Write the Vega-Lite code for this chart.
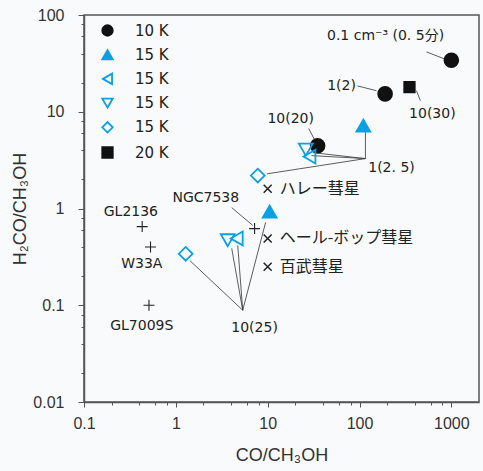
{
  "$schema": "https://vega.github.io/schema/vega-lite/v6.json",
  "width": 395,
  "height": 387,
  "autosize": {"type": "none"},
  "padding": {"left": 84, "top": 15, "right": 4, "bottom": 69},
  "background": "#f8fafc",
  "config": {
    "view": {"stroke": "#555", "strokeWidth": 1.5},
    "axis": {"grid": false, "domainColor": "#555", "domainWidth": 1.5, "tickColor": "#555", "tickWidth": 1, "labelFont": "Liberation Sans", "labelFontSize": 16, "labelColor": "#333", "titleFont": "Liberation Sans", "titleFontSize": 18, "titleFontWeight": "normal", "titleColor": "#333"},
    "legend": {"padding": 0, "symbolSize": 110, "symbolStrokeWidth": 1.8, "labelFont": "DejaVu Sans", "labelFontSize": 15, "labelColor": "#222", "rowPadding": 6.2, "labelOffset": 20},
    "text": {"font": "DejaVu Sans", "fontSize": 14, "fill": "#222"}
  },
  "datasets": {
    "pts": [
      {"series": "10 K", "x": 1000, "y": 34},
      {"series": "10 K", "x": 190, "y": 15.3},
      {"series": "10 K", "x": 35, "y": 4.45},
      {"series": "20 K", "x": 350, "y": 18},
      {"series": "15 K-1", "x": 110, "y": 7.2},
      {"series": "15 K-1", "x": 10.5, "y": 0.93},
      {"series": "15 K-2", "x": 28.5, "y": 3.44},
      {"series": "15 K-2", "x": 4.6, "y": 0.49},
      {"series": "15 K-3", "x": 26, "y": 4.06},
      {"series": "15 K-3", "x": 3.67, "y": 0.47},
      {"series": "15 K-4", "x": 7.8, "y": 2.19},
      {"series": "15 K-4", "x": 1.28, "y": 0.34}
    ],
    "seg": [
      {"x": 535, "y": 41.6, "x2": 839, "y2": 35.2},
      {"x": 95, "y": 18.5, "x2": 153, "y2": 16.5},
      {"x": 417, "y": 16.5, "x2": 460, "y2": 13},
      {"x": 28, "y": 6.7, "x2": 34, "y2": 4.7},
      {"x": 116, "y": 3.28, "x2": 116, "y2": 6.37},
      {"x": 116, "y": 3.28, "x2": 31, "y2": 3.78},
      {"x": 116, "y": 3.28, "x2": 30, "y2": 3.52},
      {"x": 116, "y": 3.28, "x2": 9.8, "y2": 2.28},
      {"x": 4.06, "y": 1.02, "x2": 6.87, "y2": 0.67},
      {"x": 5.35, "y": 0.0888, "x2": 1.42, "y2": 0.29},
      {"x": 5.35, "y": 0.0888, "x2": 4.06, "y2": 0.387},
      {"x": 5.35, "y": 0.0888, "x2": 4.72, "y2": 0.416},
      {"x": 5.35, "y": 0.0888, "x2": 9.5, "y2": 0.72}
    ],
    "lbl": [
      {"text": "0.1 cm⁻³ (0. 5分)", "x": 192, "y": 60.8},
      {"text": "1(2)", "x": 63.7, "y": 18.5},
      {"text": "10(30)", "x": 621, "y": 9.5},
      {"text": "10(20)", "x": 17.8, "y": 8.5},
      {"text": "1(2. 5)", "x": 223, "y": 2.65},
      {"text": "NGC7538", "x": 2.12, "y": 1.27},
      {"text": "GL2136", "x": 0.324, "y": 0.93},
      {"text": "W33A", "x": 0.426, "y": 0.27},
      {"text": "GL7009S", "x": 0.426, "y": 0.0608},
      {"text": "10(25)", "x": 7.2, "y": 0.058}
    ],
    "src": [
      {"name": "GL2136", "x": 0.43, "y": 0.65},
      {"name": "W33A", "x": 0.53, "y": 0.40},
      {"name": "GL7009S", "x": 0.51, "y": 0.1},
      {"name": "NGC7538", "x": 7.2, "y": 0.62}
    ],
    "comet": [
      {"name": "ハレー彗星", "x": 10, "y": 1.6},
      {"name": "ヘール-ボップ彗星", "x": 10, "y": 0.49},
      {"name": "百武彗星", "x": 10, "y": 0.25}
    ]
  },
  "layer": [
    {
      "data": {"name": "seg"},
      "mark": {"type": "rule", "color": "#333", "strokeWidth": 0.8},
      "encoding": {
        "x": {"field": "x", "type": "quantitative", "scale": {"type": "log", "domain": [0.1, 2000], "nice": false},
          "axis": {"title": "CO/CH₃OH", "values": [0.1,0.2,0.4,0.6,0.8,1,2,4,6,8,10,20,40,60,80,100,200,400,600,800,1000],
            "labelExpr": "abs(log(datum.value)/LN10 - round(log(datum.value)/LN10)) < 1e-6 ? format(datum.value, '~g') : ''",
            "tickSize": {"condition": {"test": "abs(log(datum.value)/LN10 - round(log(datum.value)/LN10)) < 1e-6", "value": 5}, "value": 3},
            "labelPadding": 8, "titlePadding": 15, "labelFlush": false}},
        "y": {"field": "y", "type": "quantitative", "scale": {"type": "log", "domain": [0.01, 100], "nice": false},
          "axis": {"title": "H₂CO/CH₃OH", "values": [0.01,0.02,0.04,0.06,0.08,0.1,0.2,0.4,0.6,0.8,1,2,4,6,8,10,20,40,60,80,100],
            "labelExpr": "abs(log(datum.value)/LN10 - round(log(datum.value)/LN10)) < 1e-6 ? format(datum.value, '~g') : ''",
            "tickSize": {"condition": {"test": "abs(log(datum.value)/LN10 - round(log(datum.value)/LN10)) < 1e-6", "value": 6}, "value": 3},
            "labelPadding": 14, "titlePadding": 3, "labelFlush": false}},
        "x2": {"field": "x2"},
        "y2": {"field": "y2"}
      }
    },
    {
      "data": {"name": "pts"},
      "transform": [{"filter": "datum.series != '20 K'"}],
      "mark": {"type": "point", "filled": false, "strokeWidth": 1.8, "opacity": 1, "size": 190},
      "encoding": {
        "x": {"field": "x", "type": "quantitative"},
        "y": {"field": "y", "type": "quantitative"},
        "shape": {"field": "series", "type": "nominal",
          "scale": {"domain": ["10 K", "15 K-1", "15 K-2", "15 K-3", "15 K-4", "20 K"], "range": ["circle", "triangle-up", "triangle-left", "triangle-down", "diamond", "square"]},
          "legend": {"title": null, "orient": "none", "legendX": 16, "legendY": 8, "labelExpr": "slice(datum.label, 0, 4)"}},
        "fill": {"field": "series", "type": "nominal",
          "scale": {"domain": ["10 K", "15 K-1", "15 K-2", "15 K-3", "15 K-4", "20 K"], "range": ["#111111", "#0aa0e6", "transparent", "transparent", "transparent", "#111111"]}},
        "stroke": {"field": "series", "type": "nominal",
          "scale": {"domain": ["10 K", "15 K-1", "15 K-2", "15 K-3", "15 K-4", "20 K"], "range": ["#111111", "#0aa0e6", "#0aa0e6", "#0aa0e6", "#0aa0e6", "#111111"]}}
      }
    },
    {
      "data": {"name": "pts"},
      "transform": [{"filter": "datum.series == '20 K'"}],
      "mark": {"type": "point", "filled": false, "strokeWidth": 1.8, "opacity": 1, "size": 110},
      "encoding": {
        "x": {"field": "x", "type": "quantitative"},
        "y": {"field": "y", "type": "quantitative"},
        "shape": {"field": "series", "type": "nominal"},
        "fill": {"field": "series", "type": "nominal"},
        "stroke": {"field": "series", "type": "nominal"}
      }
    },
    {
      "data": {"name": "src"},
      "mark": {"type": "point", "shape": "M-1,0H1M0,-1V1", "size": 121, "stroke": "#222", "strokeWidth": 1.1, "filled": false, "opacity": 1},
      "encoding": {
        "x": {"field": "x", "type": "quantitative"},
        "y": {"field": "y", "type": "quantitative"}
      }
    },
    {
      "data": {"name": "comet"},
      "mark": {"type": "point", "shape": "M-1,-1L1,1M-1,1L1,-1", "size": 64, "stroke": "#222", "strokeWidth": 1.5, "filled": false, "opacity": 1},
      "encoding": {
        "x": {"field": "x", "type": "quantitative"},
        "y": {"field": "y", "type": "quantitative"}
      }
    },
    {
      "data": {"name": "comet"},
      "mark": {"type": "text", "align": "left", "baseline": "middle", "dx": 12, "font": "Noto Sans CJK JP", "fontSize": 16},
      "encoding": {
        "x": {"field": "x", "type": "quantitative"},
        "y": {"field": "y", "type": "quantitative"},
        "text": {"field": "name"}
      }
    },
    {
      "data": {"name": "lbl"},
      "mark": {"type": "text", "align": "center", "baseline": "middle", "font": "DejaVu Sans, Noto Sans CJK JP"},
      "encoding": {
        "x": {"field": "x", "type": "quantitative"},
        "y": {"field": "y", "type": "quantitative"},
        "text": {"field": "text"}
      }
    }
  ]
}
